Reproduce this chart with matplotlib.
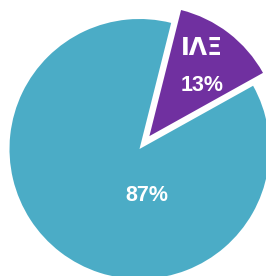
import matplotlib
matplotlib.use("Agg")
import matplotlib.pyplot as plt

labels = ["IAE", "Other"]
values = [13, 87]
pct_labels = ["13%", "87%"]
colors = ["#7030A0", "#4BACC6"]
explode = [0.125, 0.0]

fig = plt.figure(figsize=(2.66, 2.76), dpi=100)
ax = fig.add_axes([0, 0, 1, 1])
ax.pie(values, colors=colors, explode=explode, startangle=75.9,
       counterclock=False, radius=1.0, wedgeprops=dict(linewidth=0))
ax.set_xlim(-139.5 / 130, (266 - 139.5) / 130)
ax.set_ylim(-(276 - 149) / 130, 149 / 130)
ax.set_aspect('auto')
ax.axis('off')

font = ["Liberation Sans", "DejaVu Sans"]
ax.text(0.48, 0.775, "IΛΞ", color="white", fontsize=17, fontweight="bold",
        ha="center", va="center", family=["DejaVu Sans"])
ax.text(0.485, 0.49, pct_labels[0], color="white", fontsize=15.5, fontweight="bold",
        ha="center", va="center", family=font)
ax.text(0.054, -0.36, pct_labels[1], color="white", fontsize=15.5, fontweight="bold",
        ha="center", va="center", family=font)

fig.savefig("out.png", dpi=100)
